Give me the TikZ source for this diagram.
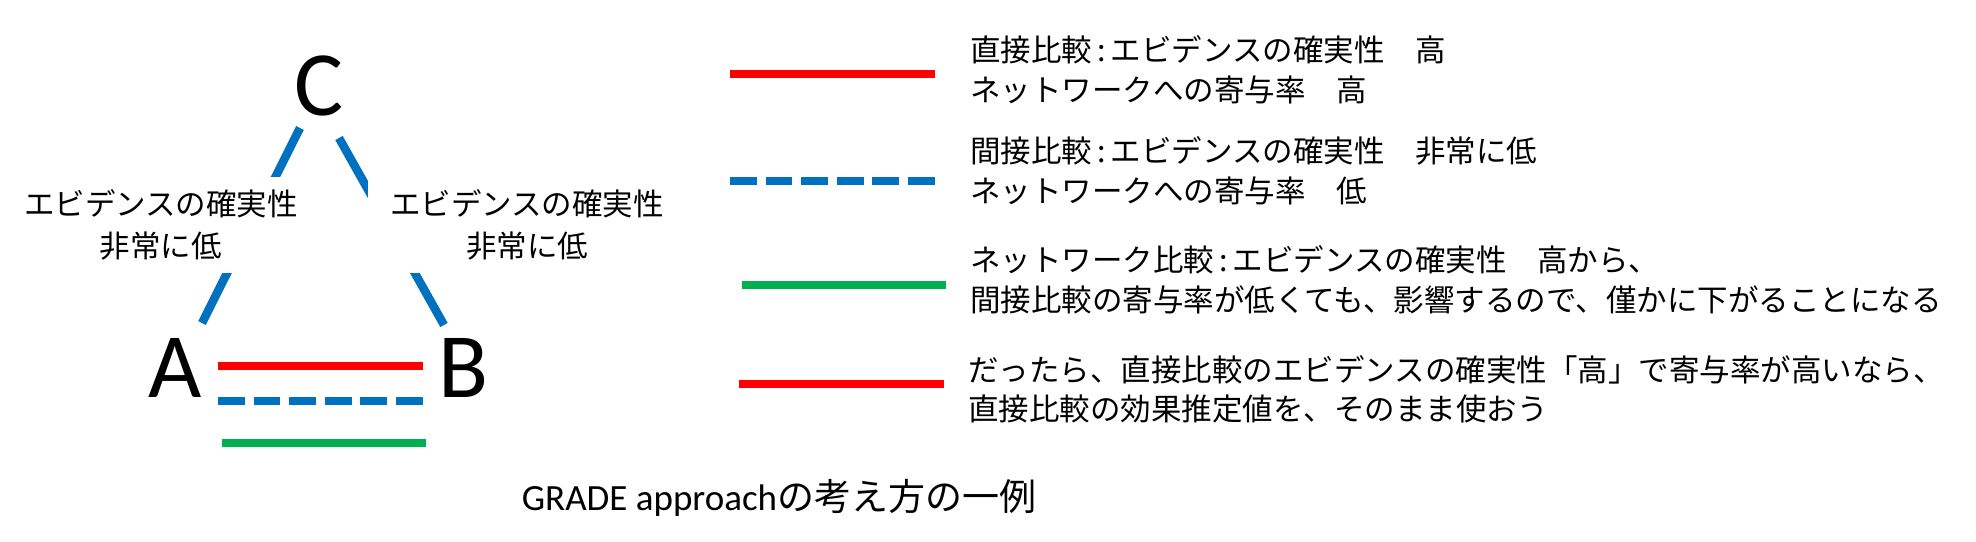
\documentclass[tikz,border=0pt]{standalone}
\usepackage{fontspec}
\setmainfont{Carlito}
\newfontfamily\jp{Noto Sans CJK JP}
\definecolor{cred}{RGB}{255,0,0}
\definecolor{cblue}{RGB}{0,112,192}
\definecolor{cgreen}{RGB}{0,176,80}
\newcommand{\cln}{\kern5pt:\kern5pt}
\begin{document}
\begin{tikzpicture}[x=1pt,y=-1pt,
  letter/.style={inner sep=0pt, font=\fontsize{92}{92}\selectfont},
  lbl/.style={fill=white, align=center, inner sep=0pt, minimum height=96pt, font=\jp\fontsize{30.5}{42}\selectfont},
  legtext/.style={anchor=west, align=left, inner sep=0pt, font=\jp\fontsize{30.5}{39.5}\selectfont},
  tri/.style={draw=cblue, line width=8.5pt},
  redl/.style={draw=cred, line width=8.5pt},
  bluel/.style={draw=cblue, line width=8.5pt, dash pattern=on 26.7pt off 8.9pt},
  greenl/.style={draw=cgreen, line width=8.5pt}]
\useasboundingbox (0,0) rectangle (1976,541);
% vertices
\node[letter] (C) at (319,86) {C};
\node[letter] (A) at (175,368) {A};
\node[letter] (B) at (464,368) {B};
% indirect comparisons
\draw[tri] ([shift={(-19,42)}]C.center) -- ([shift={(27,-45)}]A.center);
\draw[tri] ([shift={(20,52)}]C.center) -- ([shift={(-20,-43)}]B.center);
% labels on the indirect lines
\node[lbl, minimum width=312pt] (lL) at (161,225) {エビデンスの確実性\\非常に低};
\node[lbl, minimum width=318pt] (lR) at (527,225) {エビデンスの確実性\\非常に低};
% A-B comparisons
\draw[redl] ([shift={(43,-2)}]A.center) -- ([shift={(-41,-2)}]B.center);
\draw[bluel] ([shift={(43,33)}]A.center) -- ([shift={(-41,33)}]B.center);
\draw[greenl] ([shift={(47,75)}]A.center) -- ([shift={(-38,75)}]B.center);
% legend samples
\draw[redl] (730,74) -- (935,74);
\draw[bluel] (730,181) -- (935,181);
\draw[greenl] (742,285) -- (946,285);
\draw[redl] (739,384) -- (944,384);
% legend texts
\node[legtext] (t1) at (970,70) {直接比較\cln エビデンスの確実性　高\\ネットワークへの寄与率　高};
\node[legtext] (t2) at (970,171) {間接比較\cln エビデンスの確実性　非常に低\\ネットワークへの寄与率　低};
\node[legtext] (t3) at (970,280) {ネットワーク比較\cln エビデンスの確実性　高から、\\間接比較の寄与率が低くても、影響するので、僅かに下がることになる};
\node[legtext] (t4) at (968,389.5) {だったら、直接比較のエビデンスの確実性「高」で寄与率が高いなら、\\直接比較の効果推定値を、そのまま使おう};
% caption
\node[anchor=base, inner sep=0pt, font=\fontsize{37}{37}\selectfont] (cap) at (779,510) {GRADE approach{\jp の考え方の一例}};
\end{tikzpicture}
\end{document}
